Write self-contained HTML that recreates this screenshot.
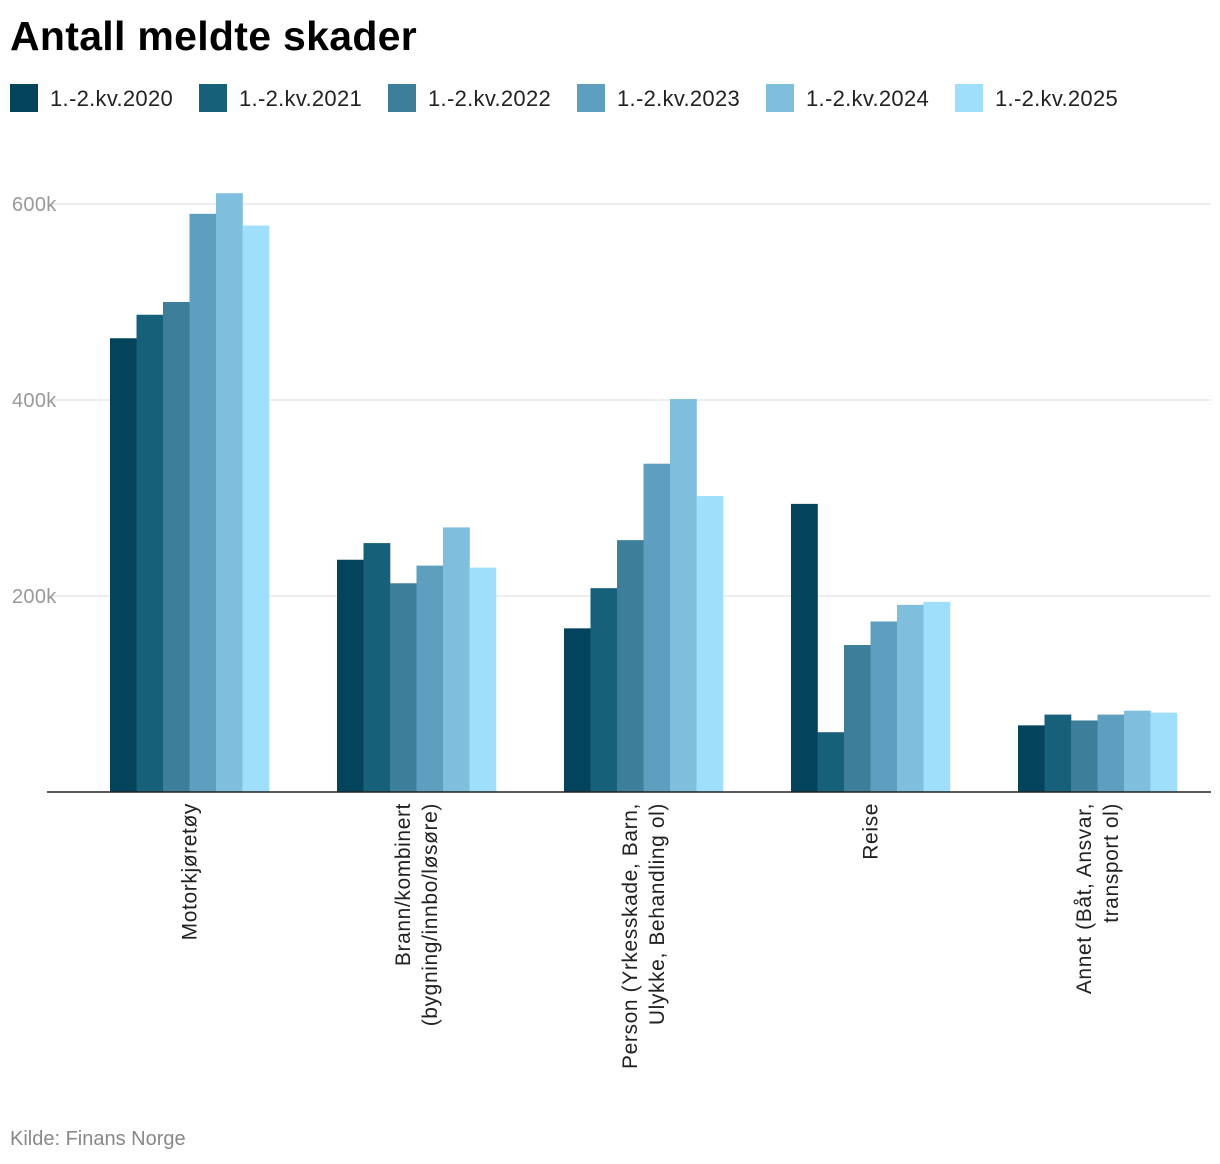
<!DOCTYPE html>
<html><head><meta charset="utf-8"><style>
body{margin:0;background:#fff;font-family:"Liberation Sans",sans-serif;}
svg{display:block}
</style></head><body>
<svg id="c" width="1220" height="1164">
<text x="10" y="50" font-size="41" font-weight="bold" fill="#000" letter-spacing="0.3">Antall meldte skader</text>
<g id="legend"></g>
<g id="grid"></g>
<g id="bars"></g>
<g id="xl"></g>
<text x="10" y="1145" font-size="20" fill="#888">Kilde: Finans Norge</text>
</svg>
<script>
const categories=[["Motorkjøretøy"],["Brann/kombinert","(bygning/innbo/løsøre)"],["Person (Yrkesskade, Barn,","Ulykke, Behandling ol)"],["Reise"],["Annet (Båt, Ansvar,","transport ol)"]];
const seriesNames=["1.-2.kv.2020","1.-2.kv.2021","1.-2.kv.2022","1.-2.kv.2023","1.-2.kv.2024","1.-2.kv.2025"];
const s2020=[463,237,167,294,68];
const s2021=[487,254,208,61,79];
const s2022=[500,213,257,150,73];
const s2023=[590,231,335,174,79];
const s2024=[611,270,401,191,83];
const s2025=[578,229,302,194,81];
const yTicks=[200,400,600];
const tickLabels=["200k","400k","600k"];
const series=[s2020,s2021,s2022,s2023,s2024,s2025];
const colors=["#03445c","#17607a","#3d7e9b","#5e9fbf","#7fbfdd","#a0dffc"];
const NS="http://www.w3.org/2000/svg";
const x0=76,bandW=227,pad=34,y0=792,k=0.98;
const yS=v=>y0-v*k;
function mk(tag,attrs,parent){const e=document.createElementNS(NS,tag);for(const a in attrs)e.setAttribute(a,attrs[a]);parent.appendChild(e);return e;}
const L=document.getElementById('legend');
const lx=[10,199,388,577,766,955];
seriesNames.forEach((n,i)=>{
 const r=mk('rect',{x:lx[i],y:84,width:28,height:28,fill:colors[i]},L);
 
 
 const t=mk('text',{x:lx[i]+40,y:106,'font-size':22,fill:'#222','letter-spacing':0.3},L);t.textContent=n;
 
 
});
const G=document.getElementById('grid');
yTicks.forEach((v,i)=>{
 const l=mk('line',{x1:47,x2:1211,y1:yS(v),y2:yS(v),stroke:'#ddd','stroke-width':1},G);
 
 
 const t=mk('text',{x:12,y:yS(v)+7,'font-size':20,fill:'#999','letter-spacing':0.3},G);t.textContent=tickLabels[i];
 
 
});
const B=document.getElementById('bars');
const bw=(bandW-2*pad)/series.length;
categories.forEach((c,ci)=>{
 series.forEach((s,si)=>{
  const x=x0+ci*bandW+pad+si*bw;
  const r=mk('rect',{x:x,y:yS(s[ci]),width:bw+0.3,height:s[ci]*k,fill:colors[si]},B);
  
  
 });
});
const ax=mk('line',{x1:47,x2:1211,y1:y0,y2:y0,stroke:'#222','stroke-width':1.5},B);


const X=document.getElementById('xl');
categories.forEach((lines,ci)=>{
 const cx=x0+ci*bandW+bandW/2;
 lines.forEach((ln,li)=>{
  const x=cx+(li-(lines.length-1)/2)*27+7;
  const t=mk('text',{x:x,y:803,'font-size':21,'letter-spacing':0.6,fill:'#222','text-anchor':'end',transform:`rotate(-90 ${x} 803)`},X);
  t.textContent=ln;
  
  
 });
});
</script>
</body></html>
